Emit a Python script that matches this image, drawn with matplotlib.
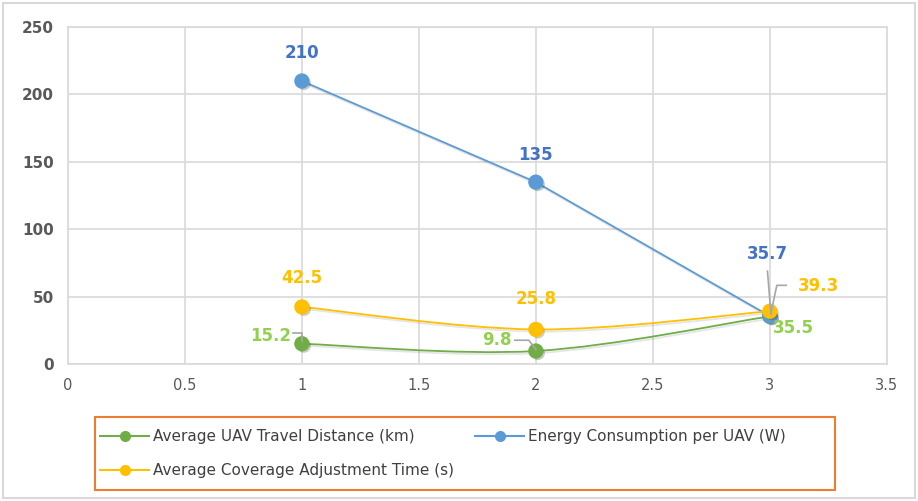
import matplotlib.pyplot as plt
import matplotlib.patheffects as pe
from matplotlib.path import Path
from matplotlib.patches import PathPatch, Rectangle
from matplotlib.lines import Line2D
import numpy as np

plt.rcParams['font.family'] = ['DejaVu Sans']

# Data
x_vals = [1, 2, 3]
travel_distance = [15.2, 9.8, 35.5]      # km
energy_per_uav = [210, 135, 35.7]        # W
coverage_time = [42.5, 25.8, 39.3]       # s

labels = ['Average UAV Travel Distance (km)',
          'Energy Consumption per UAV (W)',
          'Average Coverage Adjustment Time (s)']

GREEN = '#70AD47'
GREEN_TXT = '#92D050'
BLUE = '#5B9BD5'
BLUE_TXT = '#4472C4'
YELLOW = '#FFC000'
GRID = '#D9D9D9'
TICK = '#595959'


def smooth_path(xs, ys):
    """Excel-style smoothed line: cubic Bezier through the data points"""
    pts = np.column_stack([xs, ys]).astype(float)
    n = len(pts)
    verts = [pts[0]]
    codes = [Path.MOVETO]
    for i in range(n - 1):
        p0 = pts[i - 1] if i > 0 else pts[i]
        p1 = pts[i]
        p2 = pts[i + 1]
        p3 = pts[i + 2] if i + 2 < n else pts[i + 1]
        c1 = p1 + (p2 - p0) / 6.0
        c2 = p2 - (p3 - p1) / 6.0
        verts += [c1, c2, p2]
        codes += [Path.CURVE4] * 3
    return Path(verts, codes)


fig = plt.figure(figsize=(9.18, 5.01), dpi=100)
fig.patches.append(Rectangle((0.003, 0.005), 0.994, 0.99, transform=fig.transFigure,
                             fill=False, edgecolor=GRID, linewidth=1.5))

ax = fig.add_axes([0.074, 0.273, 0.892, 0.673])

shadow = [pe.SimplePatchShadow(offset=(1.5, -1.5), alpha=0.25), pe.Normal()]
lshadow = [pe.SimpleLineShadow(offset=(1, -1.5), alpha=0.1), pe.Normal()]

# Energy line (straight)
ax.plot(x_vals, energy_per_uav, color=BLUE, linewidth=1.3, zorder=3, path_effects=lshadow)
# Smoothed lines
for ys, col in [(coverage_time, YELLOW), (travel_distance, GREEN)]:
    patch = PathPatch(smooth_path(x_vals, ys), facecolor='none', edgecolor=col,
                      linewidth=1.3, zorder=3, path_effects=lshadow)
    ax.add_patch(patch)

for ys, col in [(travel_distance, GREEN), (energy_per_uav, BLUE), (coverage_time, YELLOW)]:
    ax.plot(x_vals, ys, linestyle='none', marker='o', markersize=10, color=col,
            markeredgecolor=col, zorder=4, path_effects=shadow)

ax.set_xlim(0, 3.5)
ax.set_ylim(0, 250)
ax.set_xticks(np.arange(0, 3.51, 0.5))
ax.set_xticklabels(['0', '0.5', '1', '1.5', '2', '2.5', '3', '3.5'])
ax.set_yticks(np.arange(0, 251, 50))
ax.grid(True, color=GRID, linewidth=1.2)
ax.set_axisbelow(True)
for s in ax.spines.values():
    s.set_color(GRID)
    s.set_linewidth(1.2)
ax.tick_params(length=0, pad=10)
for t in ax.get_xticklabels():
    t.set_color(TICK)
    t.set_fontsize(10.5)
for t in ax.get_yticklabels():
    t.set_color(TICK)
    t.set_fontsize(11)
    t.set_fontweight('bold')

# Data labels
lbl = dict(fontsize=12, fontweight='bold', ha='center', va='center', zorder=5)
ax.text(x_vals[0], 231, f'{energy_per_uav[0]:g}', color=BLUE_TXT, **lbl)
ax.text(x_vals[1], 155, f'{energy_per_uav[1]:g}', color=BLUE_TXT, **lbl)
ax.text(2.99, 81.6, f'{energy_per_uav[2]:g}', color=BLUE_TXT, **lbl)
ax.text(x_vals[0], 63.8, f'{coverage_time[0]:g}', color=YELLOW, **lbl)
ax.text(x_vals[1], 48, f'{coverage_time[1]:g}', color=YELLOW, **lbl)
ax.text(3.21, 57.9, f'{coverage_time[2]:g}', color=YELLOW, **lbl)
ax.text(0.866, 20.8, f'{travel_distance[0]:g}', color=GREEN_TXT, **lbl)
ax.text(1.834, 17.8, f'{travel_distance[1]:g}', color=GREEN_TXT, **lbl)
ax.text(3.1, 26.7, f'{travel_distance[2]:g}', color=GREEN_TXT, **lbl)

# Leader lines
lead = dict(color='#A6A6A6', linewidth=1.2, zorder=4.5)
ax.plot([0.96, 1.0, 1.0], [23, 23, 17], **lead)
ax.plot([1.91, 1.97, 2.0], [17.8, 17.8, 11], **lead)
ax.plot([2.99, 3.005], [69, 37], **lead)
ax.plot([3.07, 3.03, 3.005], [58.5, 58.5, 38], **lead)

# Legend box (orange border)
fig.patches.append(Rectangle((95 / 918, 1 - 490 / 501), 740 / 918, 73 / 501,
                             transform=fig.transFigure, fill=False,
                             edgecolor='#ED7D31', linewidth=1.5))

# Legend (column-major fill -> order so rows read green, blue / yellow)
colors = [GREEN, BLUE, YELLOW]
order = [0, 2, 1]
handles = [Line2D([], [], color=colors[i], marker='o', markersize=7, linewidth=1.5)
           for i in order]
leg = fig.legend(handles, [labels[i] for i in order], loc='upper left', ncol=2,
                 bbox_to_anchor=(97 / 918, 1 - 426 / 501), borderaxespad=0,
                 fontsize=11, handlelength=3.2, frameon=False,
                 labelspacing=1.25, borderpad=0.2, handletextpad=0.25,
                 columnspacing=1.4)
for t in leg.get_texts():
    t.set_color('#404040')

plt.savefig('out.png', dpi=100)
